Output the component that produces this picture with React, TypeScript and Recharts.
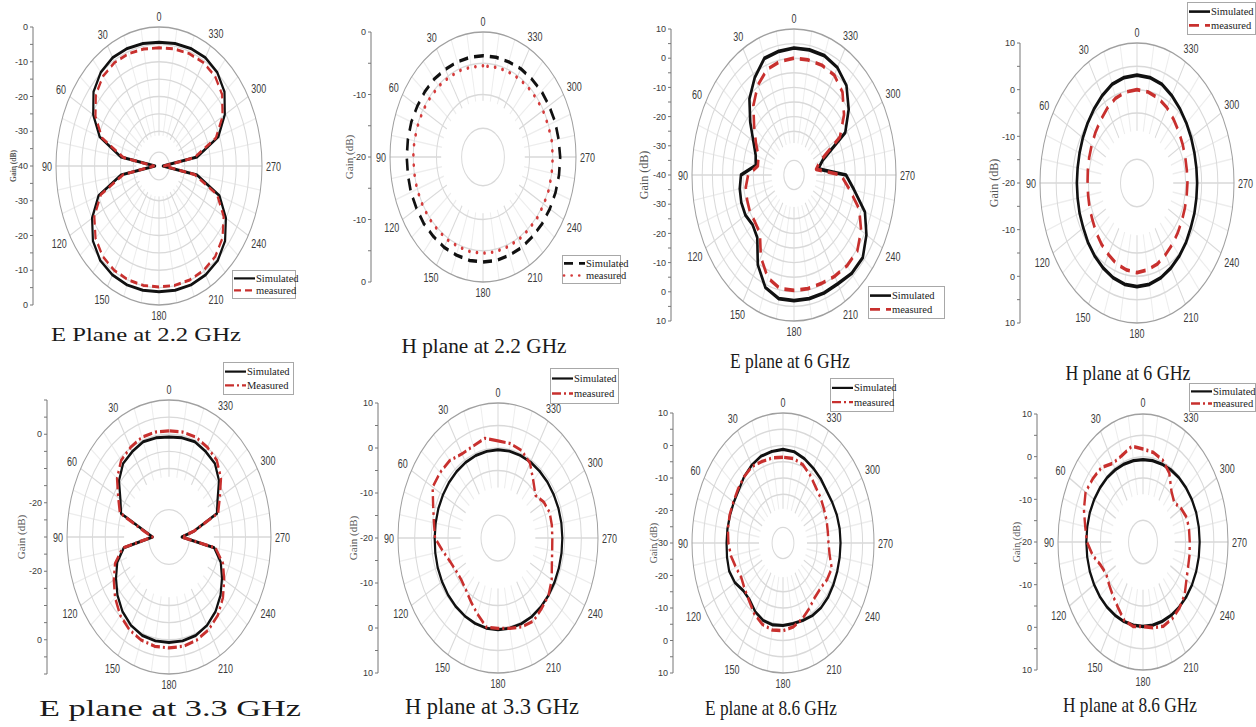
import React from 'react';
import {
  RadarChart, Radar, PolarGrid, PolarAngleAxis, PolarRadiusAxis,
  LineChart, XAxis, YAxis,
} from 'recharts';

// ---------- shared angle grid ----------
const ANGLES = [0, 10, 20, 30, 40, 50, 60, 70, 80, 90, 100, 110, 120, 130, 140, 150, 160, 170,
  180, 190, 200, 210, 220, 230, 240, 250, 260, 270, 280, 290, 300, 310, 320, 330, 340, 350];
const ANGLE_TICKS = [0, 30, 60, 90, 120, 150, 180, 210, 240, 270, 300, 330];
const MINOR_ANGLE_TICKS = [10, 20, 40, 50, 70, 80, 100, 110, 130, 140, 160, 170,
  190, 200, 220, 230, 250, 260, 280, 290, 310, 320, 340, 350];

// ---------- series values (dB), one per angle in ANGLES ----------
const e22Simulated = [-4.4, -4.2, -4.0, -4.0, -4.8, -6.8, -10.5, -15.5, -25, -38.5, -25, -15, -10, -6.5, -4.5, -3.8, -3.6, -3.7,
  -3.8, -3.7, -3.6, -3.8, -4.5, -6.5, -10, -15, -25, -38.5, -25, -15.5, -10.5, -6.8, -4.8, -4.0, -4.0, -4.2];
const e22Measured = [-6.0, -5.8, -5.6, -5.6, -6.2, -8.0, -11.5, -16.5, -26, -38, -26, -16, -11, -7.8, -6.0, -5.3, -5.1, -5.1,
  -5.2, -5.1, -5.1, -5.3, -6.0, -7.8, -11, -16, -26, -38, -26, -16.5, -11.5, -8.0, -6.2, -5.6, -5.6, -5.8];

const h22Simulated = [-3.8, -3.8, -3.8, -3.8, -3.7, -3.7, -3.7, -3.6, -3.6, -3.6, -3.6, -3.5, -3.5, -3.4, -3.4, -3.3, -3.3, -3.2,
  -3.2, -3.2, -3.3, -3.3, -3.4, -3.4, -3.4, -3.4, -3.4, -3.4, -3.5, -3.5, -3.6, -3.6, -3.7, -3.7, -3.8, -3.8];
const h22Measured = [-5.4, -5.4, -5.3, -5.3, -5.2, -5.2, -5.1, -5.1, -5.0, -5.0, -5.0, -4.9, -4.9, -4.8, -4.8, -4.7, -4.7, -4.6,
  -4.6, -4.6, -4.7, -4.7, -4.8, -4.8, -4.9, -4.9, -5.0, -5.0, -5.0, -5.1, -5.1, -5.2, -5.2, -5.3, -5.3, -5.4];

const e6Simulated = [3.5, 3.0, 2.5, -1.5, -6, -12, -17, -20, -21, -14, -13, -12.5, -12.5, -13.5, -12, -4.5, 1, 3,
  3, 3, 3, 3, 4, 4, 1, -3, -10, -14.5, -28, -25, -11, -5, 0, 2.5, 3.5, 3.5];
const e6Measured = [0, -0.5, -1.5, -4.5, -9, -14.5, -18.5, -21.5, -22, -17.5, -16, -15.5, -15, -15, -14, -7.5, -2.5, -0.5,
  -0.5, -0.5, -0.5, 0, 0.5, 0.5, -2, -6, -12.5, -17, -29, -26.5, -14, -8, -3, -0.5, 0, 0];

const h6Simulated = [3.1, 2.95, 2.5, 1.6, 0.7, -0.05, -0.65, -1.1, -1.35, -1.4, -1.35, -1.1, -0.8, -0.2, 0.4, 1.0, 1.6, 2.05,
  2.2, 2.05, 1.6, 1.0, 0.4, -0.2, -0.8, -1.1, -1.35, -1.4, -1.35, -1.1, -0.65, -0.05, 0.7, 1.6, 2.5, 2.95];
const h6Measured = [0, -0.2, -0.65, -1.55, -2.45, -3.2, -3.8, -4.25, -4.55, -4.7, -4.65, -4.4, -4.1, -3.5, -2.9, -2.3, -1.55, -1.1,
  -0.8, -1.1, -1.55, -2.3, -2.9, -3.5, -3.95, -4.25, -4.4, -4.4, -4.35, -4.1, -3.65, -3.05, -2.3, -1.4, -0.65, -0.2];

const e33Simulated = [-0.8, -0.6, -0.4, -1.2, -2, -4.4, -8, -10, -20.4, -23.6, -12, -8.4, -6, -3.6, -1.6, -0.2, 0.6, 0.8,
  0.8, 0.8, 0.6, -0.2, -1.6, -3.6, -6, -8.4, -12, -25, -20, -10, -8, -4.4, -2, -1.2, -0.4, -0.6];
const e33Measured = [1.0, 1.1, 1.0, 0.2, -0.8, -3.4, -7, -9.5, -20, -23.5, -11.5, -7.5, -5, -2.4, -0.2, 1.2, 2.0, 2.4,
  2.4, 2.4, 2.0, 1.2, -0.2, -2.4, -5, -7.5, -11.5, -25, -20, -9.5, -7, -3.4, -0.8, 0.2, 1.0, 1.1];

const h33Simulated = [-0.4, -0.45, -0.5, -0.6, -0.7, -0.8, -0.9, -0.95, -1.0, -1.0, -0.9, -0.75, -0.6, -0.4, -0.2, 0, 0.2, 0.35,
  0.4, 0.35, 0.3, 0.2, 0, -0.2, -0.4, -0.55, -0.65, -0.7, -0.7, -0.7, -0.7, -0.65, -0.6, -0.5, -0.45, -0.4];
const h33Measured = [1.6, 2.5, 1.75, 1.6, 2.5, 2.65, 2.65, 0.7, -0.5, -1.1, -3.2, -4.7, -5.45, -5.6, -5.0, -3.7, -2.0, 0.1,
  0.1, 0.4, 1.0, 1.3, 0.4, -0.2, -1.4, -2.8, -3.5, -3.7, -3.6, -3.5, -4.1, -5.3, -3.5, -0.8, 0.7, 1.3];

const e86Simulated = [-1.2, -1.4, -1.6, -2.4, -3.4, -4.6, -5, -5.2, -5.2, -5.2, -5, -4.8, -5.6, -7.2, -7.2, -5.6, -4.6, -4.4,
  -4.6, -4.8, -4.6, -4.2, -4, -4.1, -4.4, -4.6, -4.7, -4.7, -4.7, -4.8, -5, -5, -4.2, -3.4, -2.4, -1.5];
const e86Measured = [-3.6, -3.4, -3.3, -2.8, -3.4, -4.2, -4.8, -5, -5.4, -6, -6.8, -8, -8.8, -8, -6.8, -4.8, -3.4, -2.8,
  -3, -3.8, -5.2, -6.8, -8.2, -8.4, -7.6, -7.2, -9.2, -10, -10, -9.6, -9.2, -8.4, -7.6, -6, -4.4, -3.6];

const h86Simulated = [-0.7, -0.65, -0.55, -0.45, -0.3, -0.2, -0.1, 0, 0, 0, 0, 0, -0.05, -0.1, -0.15, -0.2, -0.2, -0.2,
  -0.2, -0.2, -0.2, -0.15, -0.1, -0.05, 0, 0, 0, 0, 0, 0, -0.1, -0.2, -0.3, -0.45, -0.55, -0.65];
const h86Measured = [1.8, 2.8, 1.6, 1.3, 2.8, 3.1, 3.4, 2.2, 0.7, -0.2, -2, -4.1, -5, -4.4, -3.5, -2.3, -0.5, 0.1,
  -0.2, 0.4, 1, 0.7, 0.1, -0.8, -2.3, -3.05, -3.3, -3.5, -3.5, -3.5, -4.4, -5.6, -4.4, -1.4, 0.4, 1.3];

// ---------- gain-axis labels (dB values that carry a label) ----------
const e22GainLabels = [-40, -30, -20, -10, 0];
const h22GainLabels = [-20, -10, 0];
const e6GainLabels = [-40, -30, -20, -10, 0, 10];
const h6GainLabels = [-20, -10, 0, 10];
const e33GainLabels = [-20, 0];
const h33GainLabels = [-20, -10, 0, 10];
const e86GainLabels = [-30, -20, -10, 0, 10];
const h86GainLabels = [-20, -10, 0, 10];

// ---------- styles ----------
const SANS = '"Liberation Sans", Arial, sans-serif';
const SERIF = '"Liberation Serif", "Times New Roman", serif';
const RED = '#c8302e';
const BLACK = '#111111';

type LineStyle = { stroke: string; width: number; dash?: string; cap?: 'round' | 'butt' };
const SOLID: LineStyle = { stroke: BLACK, width: 2.2 };
const SOLID_THICK: LineStyle = { stroke: BLACK, width: 2.6 };
const BLACK_DASH: LineStyle = { stroke: BLACK, width: 2.6, dash: '9 6' };
const RED_DASH: LineStyle = { stroke: RED, width: 2.2, dash: '7 4' };
const RED_DASH_THICK: LineStyle = { stroke: RED, width: 2.6, dash: '10 6' };
const RED_DOT: LineStyle = { stroke: '#d53b3b', width: 2.6, dash: '0.1 7.5', cap: 'round' };
const RED_DASHDOT: LineStyle = { stroke: RED, width: 2.4, dash: '9 3 2 3' };

type Panel = {
  title: string; titleX: number; titleY: number; titleW: number; titleSize: number;
  cx: number; cy: number; rx: number; ry: number; hole: number;
  min: number; max: number; gainLabels: number[];
  axisX: number; gainX: number; gainSize: number; gainBold?: boolean;
  sim: number[]; meas: number[]; simStyle: LineStyle; measStyle: LineStyle;
  legend: { x: number; y: number; w: number; h: number; measLabel: string };
};

const PANELS: Panel[] = [
  {
    title: 'E Plane at 2.2 GHz', titleX: 146, titleY: 341, titleW: 190, titleSize: 19.5,
    cx: 159, cy: 166, rx: 103, ry: 139, hole: 0.1, min: -40, max: 0, gainLabels: e22GainLabels,
    axisX: 33, gainX: 13, gainSize: 7.5, gainBold: true,
    sim: e22Simulated, meas: e22Measured, simStyle: SOLID, measStyle: RED_DASH,
    legend: { x: 232, y: 270, w: 63, h: 28, measLabel: 'measured' },
  },
  {
    title: 'H plane at 2.2 GHz', titleX: 484, titleY: 353, titleW: 165, titleSize: 22,
    cx: 483, cy: 157, rx: 93, ry: 125, hole: 0.23, min: -20, max: 0, gainLabels: h22GainLabels,
    axisX: 371, gainX: 349, gainSize: 11,
    sim: h22Simulated, meas: h22Measured, simStyle: BLACK_DASH, measStyle: RED_DOT,
    legend: { x: 562, y: 255, w: 58, h: 28, measLabel: 'measured' },
  },
  {
    title: 'E plane at 6 GHz', titleX: 790, titleY: 368, titleW: 120, titleSize: 22,
    cx: 794, cy: 175, rx: 102, ry: 146, hole: 0.1, min: -40, max: 10, gainLabels: e6GainLabels,
    axisX: 671, gainX: 644, gainSize: 12,
    sim: e6Simulated, meas: e6Measured, simStyle: SOLID_THICK, measStyle: RED_DASH_THICK,
    legend: { x: 868, y: 286, w: 76, h: 32, measLabel: 'measured' },
  },
  {
    title: 'H plane at 6 GHz', titleX: 1128, titleY: 380, titleW: 125, titleSize: 22,
    cx: 1137, cy: 183, rx: 97, ry: 140, hole: 0.17, min: -20, max: 10, gainLabels: h6GainLabels,
    axisX: 1020, gainX: 994, gainSize: 12,
    sim: h6Simulated, meas: h6Measured, simStyle: SOLID_THICK, measStyle: RED_DASH_THICK,
    legend: { x: 1187, y: 2, w: 68, h: 32, measLabel: 'measured' },
  },
  {
    title: 'E plane at 3.3 GHz', titleX: 170, titleY: 716, titleW: 262, titleSize: 23,
    cx: 169, cy: 537, rx: 102, ry: 137, hole: 0.2, min: -30, max: 10, gainLabels: e33GainLabels,
    axisX: 47, gainX: 21, gainSize: 11,
    sim: e33Simulated, meas: e33Measured, simStyle: SOLID, measStyle: RED_DASHDOT,
    legend: { x: 223, y: 362, w: 70, h: 32, measLabel: 'Measured' },
  },
  {
    title: 'H plane at 3.3 GHz', titleX: 492, titleY: 714, titleW: 174, titleSize: 23,
    cx: 498, cy: 538, rx: 100, ry: 135, hole: 0.17, min: -20, max: 10, gainLabels: h33GainLabels,
    axisX: 378, gainX: 353, gainSize: 11,
    sim: h33Simulated, meas: h33Measured, simStyle: SOLID, measStyle: RED_DASHDOT,
    legend: { x: 550, y: 368, w: 68, h: 35, measLabel: 'measured' },
  },
  {
    title: 'E plane at 8.6 GHz', titleX: 771, titleY: 715, titleW: 132, titleSize: 22,
    cx: 783, cy: 543, rx: 91, ry: 130, hole: 0.12, min: -30, max: 10, gainLabels: e86GainLabels,
    axisX: 673, gainX: 653, gainSize: 10,
    sim: e86Simulated, meas: e86Measured, simStyle: SOLID, measStyle: RED_DASHDOT,
    legend: { x: 830, y: 378, w: 63, h: 33, measLabel: 'measured' },
  },
  {
    title: 'H plane at 8.6 GHz', titleX: 1130, titleY: 712, titleW: 134, titleSize: 22,
    cx: 1143, cy: 542, rx: 85, ry: 128, hole: 0.17, min: -20, max: 10, gainLabels: h86GainLabels,
    axisX: 1037, gainX: 1016, gainSize: 10,
    sim: h86Simulated, meas: h86Measured, simStyle: SOLID, measStyle: RED_DASHDOT,
    legend: { x: 1189, y: 383, w: 66, h: 28, measLabel: 'measured' },
  },
];

function stepRange(from: number, to: number, step: number): number[] {
  const out: number[] = [];
  for (let v = from; v <= to + 1e-9; v += step) out.push(v);
  return out;
}

function AngleTick(props: any) {
  const { x, y, payload } = props;
  const label = String(payload.value);
  const a = (Number(payload.value) * Math.PI) / 180;
  const ux = -Math.sin(a);
  const uy = -Math.cos(a);
  const w = label.length * 9 * 0.56;
  const h = 7;
  const d = 2 + (Math.abs(ux) * w) / 2 + (Math.abs(uy) * h) / 2;
  return (
    <text x={x + ux * d} y={y + uy * d} textAnchor="middle" dominantBaseline="central"
      fontSize={9} fill="#3a3a3a" fontFamily={SANS}>{label}</text>
  );
}

function PolarPanel({ p }: { p: Panel }) {
  const pad = 40;
  const W = 2 * (p.rx + pad);
  const data = ANGLES.map((a, i) => ({ angle: a, sim: p.sim[i], meas: p.meas[i] }));
  const rings = stepRange(p.min + 5, p.max - 5, 5);
  const minorInner = p.rx * Math.min(0.45, p.hole * 2.2);
  return (
    <div style={{
      position: 'absolute', left: p.cx - W / 2, top: p.cy - W / 2, width: W, height: W,
      transform: `scaleY(${p.ry / p.rx})`, transformOrigin: '50% 50%',
    }}>
      <RadarChart width={W} height={W} data={data} cx={W / 2} cy={W / 2} outerRadius={p.rx}
        startAngle={90} endAngle={450} margin={{ top: 0, right: 0, bottom: 0, left: 0 }}>
        <PolarGrid gridType="circle" polarAngles={MINOR_ANGLE_TICKS.map((a) => 90 + a)} polarRadius={[]}
          stroke="#ededed" />
        <circle cx={W / 2} cy={W / 2} r={minorInner} fill="#fff" stroke="none" />
        <PolarGrid gridType="circle" stroke="#d9d9d9" />
        <circle cx={W / 2} cy={W / 2} r={p.rx * p.hole} fill="#fff" stroke="#d9d9d9" strokeWidth={1} />
        <PolarAngleAxis dataKey="angle" type="number" domain={[0, 360]} ticks={ANGLE_TICKS}
          tick={(tp: any) => <AngleTick {...tp} />} tickLine={false} tickSize={2}
          axisLine={{ stroke: '#a0a0a0' }} axisLineType="circle" />
        <PolarRadiusAxis type="number" domain={[p.min, p.max]} ticks={rings} tick={false}
          axisLine={false} tickLine={false} allowDataOverflow />
        <Radar dataKey="sim" stroke={p.simStyle.stroke} strokeWidth={p.simStyle.width}
          strokeDasharray={p.simStyle.dash} strokeLinecap={p.simStyle.cap ?? 'butt'} strokeLinejoin="round"
          fill="none" fillOpacity={0} dot={false} isAnimationActive={false} />
        <Radar dataKey="meas" stroke={p.measStyle.stroke} strokeWidth={p.measStyle.width}
          strokeDasharray={p.measStyle.dash} strokeLinecap={p.measStyle.cap ?? 'butt'} strokeLinejoin="round"
          fill="none" fillOpacity={0} dot={false} isAnimationActive={false} />
      </RadarChart>
    </div>
  );
}

function GainAxis({ p }: { p: Panel }) {
  const span = p.max - p.min;
  const ticks = stepRange(-span, span, 5);
  const labelOffsets = p.gainLabels.map((v) => v - p.min);
  const fmt = (v: number) => {
    const off = Math.abs(v);
    return labelOffsets.some((o) => Math.abs(o - off) < 1e-6) ? String(p.min + off) : '';
  };
  const axisW = 30;
  const padY = 8;
  return (
    <div style={{ position: 'absolute', left: p.axisX - axisW, top: p.cy - p.ry - padY }}>
      <LineChart width={axisW + 10} height={2 * p.ry + 2 * padY} data={[{ x: 0 }, { x: 1 }]}
        margin={{ top: padY, right: 0, bottom: padY, left: 0 }}>
        <XAxis dataKey="x" hide />
        <YAxis type="number" domain={[-span, span]} ticks={ticks} interval={0} width={axisW}
          tickFormatter={fmt} tickSize={3} allowDataOverflow
          tick={{ fontSize: 9, fill: '#3a3a3a', fontFamily: SANS }}
          axisLine={{ stroke: '#777' }} tickLine={{ stroke: '#777' }} />
      </LineChart>
    </div>
  );
}

function LegendSample({ x, y, s }: { x: number; y: number; s: LineStyle }) {
  return (
    <line x1={x} y1={y} x2={x + 21} y2={y} stroke={s.stroke} strokeWidth={s.width}
      strokeDasharray={s.dash} strokeLinecap={s.cap ?? 'butt'} />
  );
}

function Overlay() {
  return (
    <svg width={1256} height={727} style={{ position: 'absolute', left: 0, top: 0, pointerEvents: 'none' }}>
      {PANELS.map((p, i) => {
        const L = p.legend;
        const y1 = L.y + L.h * 0.3;
        const y2 = L.y + L.h * 0.73;
        return (
          <g key={i}>
            <text x={p.titleX} y={p.titleY} textAnchor="middle" fontFamily={SERIF} fontSize={p.titleSize}
              fill="#1a1a1a" textLength={p.titleW} lengthAdjust="spacingAndGlyphs">{p.title}</text>
            <text x={p.gainX} y={p.cy} textAnchor="middle" dominantBaseline="central"
              transform={`rotate(-90 ${p.gainX} ${p.cy})`} fontFamily={SERIF} fontSize={p.gainSize}
              fontWeight={p.gainBold ? 700 : 400} fill="#555">Gain (dB)</text>
            <rect x={L.x + 0.5} y={L.y + 0.5} width={L.w} height={L.h} fill="#fff" stroke="#a8a8a8" strokeWidth={1} />
            <LegendSample x={L.x + 2} y={y1} s={p.simStyle} />
            <LegendSample x={L.x + 2} y={y2} s={p.measStyle} />
            <text x={L.x + 24} y={y1} dominantBaseline="central" fontFamily={SERIF} fontSize={10.5} fill="#222">Simulated</text>
            <text x={L.x + 24} y={y2} dominantBaseline="central" fontFamily={SERIF} fontSize={10.5} fill="#222">{L.measLabel}</text>
          </g>
        );
      })}
    </svg>
  );
}

export default function App() {
  return (
    <div style={{ position: 'absolute', left: 0, top: 0, width: 1256, height: 727, background: '#fff', overflow: 'hidden' }}>
      {PANELS.map((p, i) => (
        <React.Fragment key={i}>
          <GainAxis p={p} />
          <PolarPanel p={p} />
        </React.Fragment>
      ))}
      <Overlay />
    </div>
  );
}
